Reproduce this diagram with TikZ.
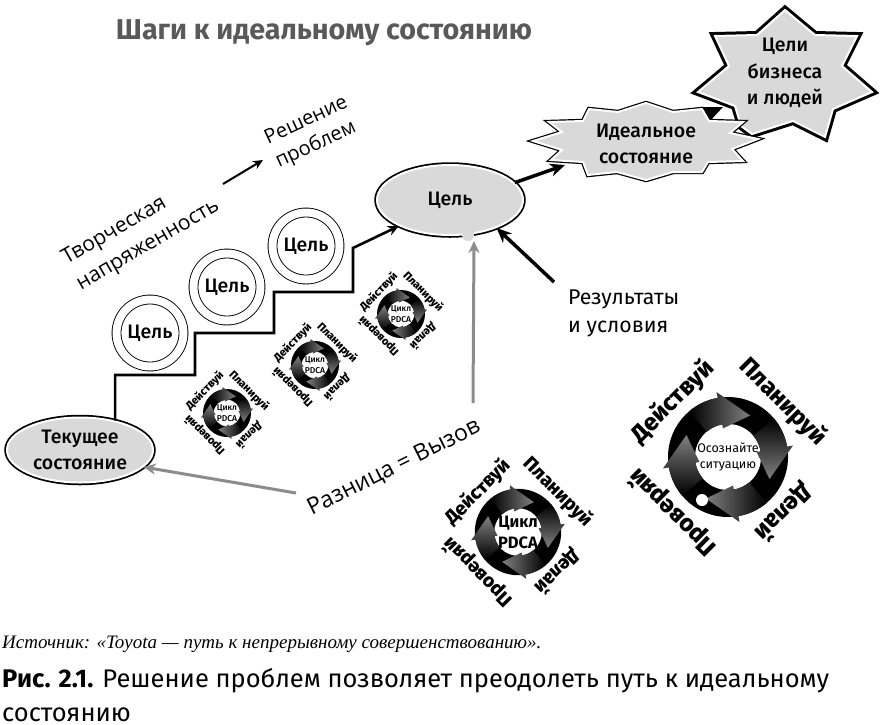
\documentclass[tikz,border=0pt]{standalone}
\usepackage{fontspec}
\setmainfont{Fira Sans}
\newfontfamily\heavyfont{Fira Sans ExtraBold}
\newfontfamily\mediumfont{Fira Sans Medium}
\newfontfamily\slantfont{Open Sans}
\newfontfamily\srcfont{Liberation Serif}
\usetikzlibrary{arrows.meta, shadows, shapes.geometric}

% one PDCA ring: name, centre, scale, label size, centre font, centre text
\newcommand{\pdcacycle}[6]{
    \begin{scope}[shift={(#2)}, scale=#3, y=1pt]
        \fill[black] (0,0) circle (60);
        \fill[white] (0,0) circle (33);
        \foreach \a [evaluate=\a as \sa using 90+\a] in {0,-90,-180,-270}
            \shade[left color=black, middle color=black!72, right color=black!50, shading angle=\sa, rotate=\a]
                (130:60) arc (130:100:60) -- (100:66) -- (62:47) -- (100:29) -- (100:33) arc (100:130:33) -- cycle;
        \node[align=center, font=#5] (#1 centre) at (0,0) {#6};
        \node[cyclelabel, font=\heavyfont\fontsize{#4}{#4}\selectfont, rotate=45] (#1 act) at (135:78) {Действуй};
        \node[cyclelabel, font=\heavyfont\fontsize{#4}{#4}\selectfont, rotate=-45] (#1 plan) at (45:78) {Планируй};
        \node[cyclelabel, font=\heavyfont\fontsize{#4}{#4}\selectfont, rotate=-135] (#1 do) at (-45:78) {Делай};
        \node[cyclelabel, font=\heavyfont\fontsize{#4}{#4}\selectfont, rotate=135] (#1 check) at (-135:78) {Проверяй};
    \end{scope}
}

\begin{document}
\begin{tikzpicture}[
        x=1pt, y=-1pt,
        cyclelabel/.style={inner sep=0pt},
        soft/.style={drop shadow={opacity=0.45, shadow xshift=1.5pt, shadow yshift=-2pt}},
        bubble/.style={soft, preaction={draw=black, line width=5.5pt}, draw=white, line width=2pt, fill=black!15},
        thinbubble/.style={soft, preaction={draw=black, line width=4.4pt}, draw=white, line width=2pt, fill=black!15},
        heavybubble/.style={soft, preaction={draw=black, line width=8pt}, draw=white, line width=2pt, fill=black!15},
        boxtext/.style={font=\mediumfont\fontsize{19.5}{26.5}\selectfont, align=center},
        goalring/.style={circle, draw, double, double distance=8pt, line width=0.9pt, minimum size=67pt, inner sep=0pt, font=\mediumfont\fontsize{19.5}{22}\selectfont},
        slanted/.style={font=\slantfont\fontsize{21}{29}\selectfont, align=left, inner sep=0pt},
        caption/.style={font=\fontsize{25.5}{36}\selectfont, anchor=base west, inner sep=0pt},
        darrow/.style={-{Stealth[length=15pt, width=13pt]}, line width=3.5pt},
        grayarrow/.style={-{Stealth[length=12pt, width=11pt]}, line width=3pt, black!45}
    ]
    \useasboundingbox (0,0) rectangle (885,724);

    % Title
    \node[font=\fontsize{28.7}{30}\selectfont\bfseries, text=black!65, inner sep=0pt] (title) at (324,33) {Шаги к идеальному состоянию};

    % Outer goals star, then the arrow head that ends under the ideal state
    \draw[heavybubble] (785,10) -- (815,35) -- (857,36) -- (842,66) -- (872,92) -- (833,109) -- (825,137) -- (793,121)
        -- (752,134) -- (741,126) -- (735,106) -- (698,92) -- (729,66) -- (715,36) -- (757,35) -- cycle;
    \node[boxtext] (business) at (785,73) {Цели\\бизнеса\\и людей};
    \fill[black] (703,107) -- (723,107) -- (709,122) -- cycle;

    % Ideal state
    \draw[thinbubble] (533,141) -- (562,132) -- (549,122) -- (583,121) -- (589,109) -- (618,112) -- (646,103) -- (673,112)
        -- (702,109) -- (709,121) -- (743,122) -- (730,133) -- (758,139) -- (732,149) -- (743,161) -- (708,162)
        -- (702,172) -- (673,172) -- (646,180) -- (617,172) -- (588,175) -- (583,162) -- (551,160) -- (562,150) -- cycle;
    \node[boxtext] (ideal) at (646,144) {Идеальное\\состояние};
    \coordinate (ideal in) at (565,165);

    % Ellipses
    \node[bubble, ellipse, minimum width=146pt, minimum height=70pt, inner sep=0pt, boxtext] (goal) at (450,200) {Цель};
    \node[bubble, ellipse, minimum width=146pt, minimum height=65pt, inner sep=0pt, boxtext] (current) at (80,450) {Текущее\\состояние};
    \node[circle, fill=black!15, inner sep=0pt, minimum size=12pt] (goal dot) at (468,235) {};

    % Intermediate goals
    \node[goalring] (goal a) at (150,333) {Цель};
    \node[goalring] (goal b) at (227,287) {Цель};
    \node[goalring] (goal c) at (306,246) {Цель};

    % Stairs and arrows
    \draw[line width=2.6pt, -{Stealth[length=11pt, width=10pt]}, line join=miter]
        (current.40) |- (195,375) |- (274,333) |- (353,292) -- (353,248) -- (goal.207);
    \draw[darrow] (goal.15) -- (ideal in);
    \coordinate (result tail) at (554,282);
    \draw[darrow] (result tail) -- (goal.-31);
    \coordinate (diff up) at (473,403);
    \coordinate (diff left) at (296,493);
    \draw[grayarrow] (diff up) -- (474,241);
    \draw[grayarrow] (diff left) -- (current.-15);
    \coordinate (tension tail) at (223,184);
    \coordinate (tension tip) at (263,160);
    \draw[line width=2pt, -{Stealth[length=10pt, width=9pt]}] (tension tail) -- (tension tip);

    % Free labels
    \node[slanted, rotate=30] (tension) at (141,233) {Творческая\\напряженность};
    \node[slanted, font=\slantfont\fontsize{20}{26}\selectfont, rotate=25] (solving) at (312,133) {Решение\\проблем};
    \node[slanted, font=\slantfont\fontsize{23}{29}\selectfont, rotate=26.5] (difference) at (394,468) {Разница = Вызов};
    \node[font=\fontsize{21.3}{28}\selectfont, align=left, inner sep=0pt, anchor=west] (results) at (568,313) {Результаты\\и условия};

    % PDCA rings
    \pdcacycle{small a}{227,413}{0.4}{11}{\mediumfont\fontsize{8.5}{10.5}\selectfont}{Цикл\\PDCA}
    \pdcacycle{small b}{315,365}{0.4}{11}{\mediumfont\fontsize{8.5}{10.5}\selectfont}{Цикл\\PDCA}
    \pdcacycle{small c}{401,314}{0.4}{11}{\mediumfont\fontsize{8.5}{10.5}\selectfont}{Цикл\\PDCA}
    \pdcacycle{mid}{518,532}{0.72}{19}{\bfseries\fontsize{16.5}{21}\selectfont}{Цикл\\PDCA}
    \pdcacycle{big}{728,457}{1}{24}{\fontsize{12.5}{16}\selectfont}{Осознайте\\ситуацию}
    \node[circle, fill=white, inner sep=0pt, minimum size=12pt] (big dot) at (702,500) {};

    % Source and caption
    \node[font=\srcfont\itshape\fontsize{19}{22}\selectfont, anchor=base west, inner sep=0pt] (source) at (2,648)
        {Источник: «Toyota — путь к непрерывному совершенствованию».};
    \node[caption] (caption a) at (2,687) {\textbf{Рис. 2.1.} Решение проблем позволяет преодолеть путь к идеальному};
    \node[caption] (caption b) at (2,721) {состоянию};
\end{tikzpicture}
\end{document}
